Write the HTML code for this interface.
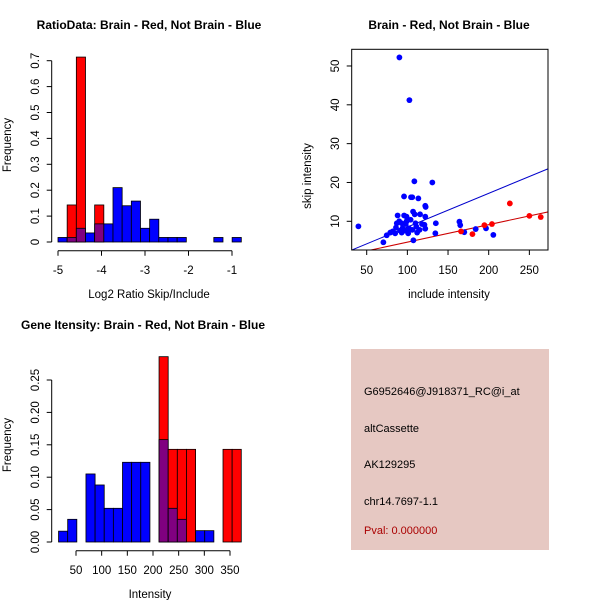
<!DOCTYPE html>
<html><head><meta charset="utf-8"><style>
html,body{margin:0;padding:0;background:#fff;}
svg{display:block;font-family:"Liberation Sans",sans-serif;}
</style></head><body>
<svg id="c" width="600" height="600" viewBox="0 0 600 600"></svg>
<script>
// Panel 1: log2 ratio histogram (20 bins from -5.0, width 0.2107)
const ratioBinStart = -5.0;
const ratioBinWidth = 0.2107;
const ratioBlue = [0.0175,0.0175,0.053,0.035,0.07,0.07,0.21,0.14,0.158,0.053,0.088,0.0175,0.0175,0.0175,0,0,0,0.0175,0,0.0175];
const ratioRed  = [0,0.143,0.714,0,0.143,0,0,0,0,0,0,0,0,0,0,0,0,0,0,0];
const ratioXTicks = [-5,-4,-3,-2,-1];
const ratioYTicks = [0,0.1,0.2,0.3,0.4,0.5,0.6,0.7];
// Panel 3: intensity histogram (20 bins from 16, width 17.8)
const intBinStart = 16;
const intBinWidth = 17.8;
const intBlue = [0.0167,0.035,0,0.105,0.088,0.052,0.052,0.123,0.123,0.123,0,0.158,0.052,0.035,0,0.0175,0.0175,0,0,0];
const intRed  = [0,0,0,0,0,0,0,0,0,0,0,0.286,0.143,0.143,0.143,0,0,0,0.143,0.143];
const intXTicks = [50,100,150,200,250,300,350];
const intYTicks = [0,0.05,0.1,0.15,0.2,0.25];
const intYLabels = ["0.00","0.05","0.10","0.15","0.20","0.25"];
// Panel 2: scatter
const blueInc = [90.2,102.5,108.6,130.7,95.9,104.5,106,113.5,122,122.5,88,96,107,109,115.6,122,99,90,99,104,87,93,98,110,118,121,135,164,165,86,94,102,111,122,82,91,97,106,115,74.6,79,85,93,101,112,134.4,170,184,196.7,205.7,70.5,107.4,39.8];
const blueSkip = [52.2,41.2,20.3,20.0,16.4,16.2,16.2,15.9,14,13.7,11.5,11.5,12.5,11.8,11.8,11.2,11.2,10,10,10.4,9.5,9.5,9.3,9.5,9.3,9.1,9.5,9.9,9,8.4,8.2,8.2,8.6,8.1,7.4,7.6,7.6,7.8,7.8,6.4,7.1,6.9,7.1,6.9,7.1,6.9,7.2,8.0,8.2,6.5,4.6,5.1,8.7];
const redInc = [166,180,194.7,204,226,250,264];
const redSkip = [7.4,6.7,9.0,9.3,14.6,11.4,11.1];
const blueFit = [-0.14,0.0867];
const redFit = [0.13,0.045];
const scXTicks = [50,100,150,200,250];
const scYTicks = [10,20,30,40,50];

const NS="http://www.w3.org/2000/svg";
const svg=document.getElementById('c');
function mk(tag,attrs,parent){const e=document.createElementNS(NS,tag);for(const k in attrs)e.setAttribute(k,attrs[k]);(parent||svg).appendChild(e);return e;}
function txt(s,x,y,opt,parent){const e=mk('text',Object.assign({x:x,y:y,'font-size':11.5,'text-anchor':'middle',fill:'#000'},opt||{}),parent);e.textContent=s;return e;}

function hist(name,start,w,blue,red,sx,sy,y0){
  const g=mk('g',{});
  
  
  for(let i=0;i<blue.length;i++){
    const x0=sx(start+i*w),x1=sx(start+(i+1)*w);
    const b=blue[i],r=red[i];
    const mx=Math.max(b,r),mn=Math.min(b,r);
    if(mx>0){
      const r1=mk('rect',{x:x0,y:sy(mx),width:x1-x0,height:y0-sy(mx),fill:b>=r?'#0000ff':'#ff0000',stroke:'#000','stroke-width':0.8},g);
      
      
    }
    if(mn>0){
      const r2=mk('rect',{x:x0,y:sy(mn),width:x1-x0,height:y0-sy(mn),fill:'#800080',stroke:'#000','stroke-width':0.8},g);
      
      
    }
  }
}
function yaxis(name,x,ticks,labels,sy,lx){
  const g=mk('g',{});
  
  
  mk('line',{x1:x,x2:x,y1:sy(ticks[0]),y2:sy(ticks[ticks.length-1]),stroke:'#000'},g);
  ticks.forEach((t,i)=>{const y=sy(t);mk('line',{x1:x-5,x2:x,y1:y,y2:y,stroke:'#000'},g);
    txt(labels[i],lx,y,{transform:'rotate(-90 '+lx+' '+y+')'},g);});
}
function xaxis(name,y,ticks,sx,ly){
  const g=mk('g',{});
  
  
  mk('line',{x1:sx(ticks[0]),x2:sx(ticks[ticks.length-1]),y1:y,y2:y,stroke:'#000'},g);
  ticks.forEach(t=>{const x=sx(t);mk('line',{x1:x,x2:x,y1:y,y2:y+5,stroke:'#000'},g);txt(String(t),x,ly,{},g);});
}
function title(s,x,y,name){const t=txt(s,x,y,{'font-size':12,'font-weight':'bold'});}
function label(s,x,y,name,rot){const t=txt(s,x,y,rot?{transform:'rotate(-90 '+x+' '+y+')'}:{});}

// Panel 1
{const sx=v=>58+(v+5)*43.5, sy=f=>242-f*259;
 title('RatioData: Brain - Red, Not Brain - Blue',149,29,'ratio-title');
 hist('ratio',ratioBinStart,ratioBinWidth,ratioBlue,ratioRed,sx,sy,242);
 yaxis('ratio-y-axis',51.7,ratioYTicks,ratioYTicks.map(String),sy,39);
 xaxis('ratio-x-axis',250.7,ratioXTicks,sx,274);
 label('Log2 Ratio Skip/Include',149,298,'ratio-x-title');
 label('Frequency',11,145,'ratio-y-title',true);}
// Panel 3
{const sx=v=>76+(v-50)*0.5133, sy=f=>542-f*648;
 title('Gene Itensity: Brain - Red, Not Brain - Blue',143,329,'intensity-title');
 hist('intensity',intBinStart,intBinWidth,intBlue,intRed,sx,sy,542);
 yaxis('intensity-y-axis',51.7,intYTicks,intYLabels,sy,39);
 xaxis('intensity-x-axis',550.7,intXTicks,sx,574);
 label('Intensity',150,598,'intensity-x-title');
 label('Frequency',11,445,'intensity-y-title',true);}
// Panel 2
{const sx=v=>366.7+(v-50)*0.8133, sy=v=>221.3-(v-10)*3.883;
 title('Brain - Red, Not Brain - Blue',449,29,'scatter-title');
 const clip=mk('clipPath',{id:'pc'});mk('rect',{x:351.7,y:49.3,width:196.3,height:200.7},clip);
 const lg=mk('g',{'clip-path':'url(#pc)'});
 
 
 const l1=mk('line',{x1:sx(20),y1:sy(blueFit[0]+blueFit[1]*20),x2:sx(300),y2:sy(blueFit[0]+blueFit[1]*300),stroke:'#0000cc','stroke-width':1},lg);
 
 
 const l2=mk('line',{x1:sx(20),y1:sy(redFit[0]+redFit[1]*20),x2:sx(300),y2:sy(redFit[0]+redFit[1]*300),stroke:'#cc0000','stroke-width':1},lg);
 
 
 blueInc.forEach((v,i)=>{const c=mk('circle',{cx:sx(v),cy:sy(blueSkip[i]),r:2.9,fill:'#0000ff'},lg);
  
  });
 redInc.forEach((v,i)=>{const c=mk('circle',{cx:sx(v),cy:sy(redSkip[i]),r:2.9,fill:'#ff0000'},lg);
  
  });
 const b=mk('rect',{x:351.7,y:49.3,width:196.3,height:200.7,fill:'none',stroke:'#000'});
 
 
 const gx=mk('g',{});
 scXTicks.forEach(t=>{mk('line',{x1:sx(t),x2:sx(t),y1:250,y2:255,stroke:'#000'},gx);txt(String(t),sx(t),274,{},gx);});
 const gy=mk('g',{});
 scYTicks.forEach(t=>{const y=sy(t);mk('line',{x1:346.7,x2:351.7,y1:y,y2:y,stroke:'#000'},gy);txt(String(t),339,y,{transform:'rotate(-90 339 '+y+')'},gy);});
 label('include intensity',449,298,'scatter-x-title');
 label('skip intensity',311,176,'scatter-y-title',true);}
</script>
<div style="position:absolute;left:351px;top:349px;width:198px;height:201px;background:#e6c8c2;font-family:'Liberation Sans',sans-serif;font-size:11px;color:#000;">
<div style="position:absolute;left:13px;top:37px;">G6952646@J918371_RC@i_at</div>
<div style="position:absolute;left:13px;top:74px;">altCassette</div>
<div style="position:absolute;left:13px;top:110px;">AK129295</div>
<div style="position:absolute;left:13px;top:147px;">chr14.7697-1.1</div>
<div style="position:absolute;left:13px;top:176px;color:#aa0000;">Pval: 0.000000</div>
</div>
</body></html>
